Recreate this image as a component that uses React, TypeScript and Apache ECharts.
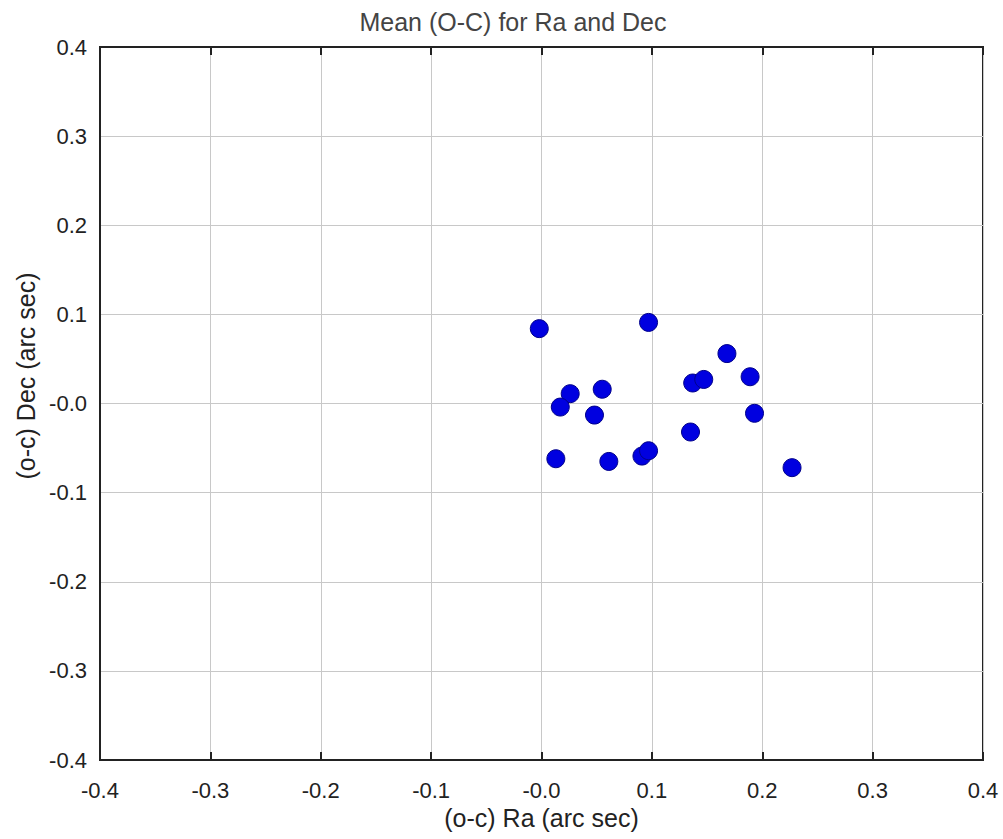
import React, { useEffect, useRef } from "react";
import * as echarts from "echarts";

const raValues = [-0.002, 0.097, 0.168, 0.189, 0.137, 0.147, 0.193, 0.135, 0.227, 0.026, 0.017, 0.055, 0.048, 0.013, 0.061, 0.091, 0.097];
const decValues = [0.084, 0.091, 0.056, 0.030, 0.023, 0.027, -0.011, -0.032, -0.072, 0.011, -0.004, 0.016, -0.013, -0.062, -0.065, -0.059, -0.053];
const tickValues = [-0.4, -0.3, -0.2, -0.1, 0, 0.1, 0.2, 0.3, 0.4];

const title = "Mean (O-C) for Ra and Dec";
const xName = "(o-c) Ra (arc sec)";
const yName = "(o-c) Dec (arc sec)";

const fmt = (v: number) => (Math.abs(v) < 1e-9 ? "-0.0" : v.toFixed(1));

export default function App() {
  const ref = useRef<HTMLDivElement>(null);
  useEffect(() => {
    if (!ref.current) return;
    const chart = echarts.init(ref.current, null, { renderer: "svg" });
    const font = "Liberation Sans, Arial, sans-serif";
    const labelStyle = { color: "#222", fontSize: 22, fontFamily: font };
    const nameStyle = { color: "#222", fontSize: 25, fontFamily: font };
    chart.setOption({
      animation: false,
      backgroundColor: "#ffffff",
      title: {
        text: title,
        left: 508,
        top: 4,
        textAlign: "center",
        textStyle: { color: "#444", fontSize: 25, fontWeight: "normal", fontFamily: font },
      },
      grid: {
        left: 100,
        top: 47,
        right: 20,
        bottom: 79,
        show: true,
        borderColor: "#222",
        borderWidth: 2,
        backgroundColor: "#fff",
      },
      xAxis: [
        {
          type: "value",
          min: -0.4,
          max: 0.4,
          interval: 0.1,
          position: "bottom",
          name: xName,
          nameLocation: "middle",
          nameGap: 45,
          nameTextStyle: nameStyle,
          axisLine: { show: true, onZero: false, lineStyle: { color: "#222", width: 2 } },
          axisTick: { show: true, inside: true, length: 8, lineStyle: { color: "#222", width: 2 } },
          axisLabel: { ...labelStyle, margin: 19, formatter: fmt },
          splitLine: { show: true, lineStyle: { color: "#c8c8c8", width: 1 } },
        },
        {
          type: "value",
          min: -0.4,
          max: 0.4,
          interval: 0.1,
          position: "top",
          axisLine: { show: true, onZero: false, lineStyle: { color: "#222", width: 2 } },
          axisTick: { show: true, inside: true, length: 8, lineStyle: { color: "#222", width: 2 } },
          axisLabel: { show: false },
          splitLine: { show: false },
        },
      ],
      yAxis: {
        type: "value",
        min: -0.4,
        max: 0.4,
        interval: 0.1,
        name: yName,
        nameLocation: "middle",
        nameGap: 54,
        nameTextStyle: { ...nameStyle, padding: [0, 0, 0, 55] },
        axisLine: { show: true, onZero: false, lineStyle: { color: "#222", width: 2 } },
        axisTick: { show: false },
        axisLabel: { ...labelStyle, margin: 13, formatter: fmt },
        splitLine: { show: true, lineStyle: { color: "#c8c8c8", width: 1 } },
      },
      series: [
        {
          type: "scatter",
          xAxisIndex: 0,
          data: raValues.map((x, i) => [x, decValues[i]]),
          symbol: "circle",
          symbolSize: 18,
          itemStyle: { color: "#0000e0", borderColor: "#00008a", borderWidth: 1, opacity: 1 },
        },
      ],
    });
    return () => chart.dispose();
  }, []);
  return (
    <div
      ref={ref}
      style={{ position: "fixed", left: 0, top: 0, width: 1003, height: 839, background: "#fff" }}
    />
  );
}
